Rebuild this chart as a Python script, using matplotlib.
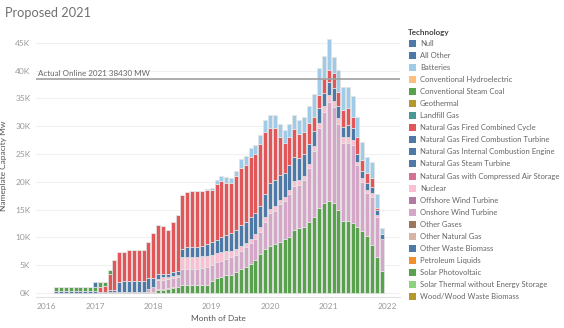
import matplotlib
matplotlib.use("Agg")
import matplotlib.pyplot as plt
from matplotlib.patches import Rectangle
import numpy as np
import pandas as pd

plt.rcParams['font.family'] = ['Lato', 'DejaVu Sans']

# meses: mai/2016 .. dez/2021
meses = pd.date_range("2016-05-01", "2021-12-01", freq="MS")

# valores em milhares de MW (K)
solar = [0, 0, 0, 0, 0, 0, 0, 0, 0, 0, 0, 0, 0, 0, 0, 0, 0, 0, 0, 0, 0,
         0.6, 0.6, 0.8, 0.9, 1.0,
         1.4, 1.45, 1.45, 1.45, 1.45, 1.5, 2.2, 2.7, 2.8, 3.2,
         3.2, 3.8, 4.3, 4.7, 5.3, 5.9, 7.0, 8.0, 8.5, 8.8,
         9.1, 9.7, 10.1, 11.3, 11.6, 11.9, 12.8, 13.6, 15.2, 16.1,
         16.6, 16.1, 15.0, 13.0, 13.0, 12.5, 11.9, 11.2, 10.2, 8.7,
         6.4, 4.0]
outros_gases = [0, 0, 0, 0, 0, 0, 0, 0, 0, 0, 0,
                0.2, 0.2, 0.2, 0.2, 0.2, 0.2, 0.2, 0.2, 0.2, 0.2,
                0.1, 0.1, 0.1, 0.1, 0.1,
                0, 0, 0, 0, 0, 0, 0, 0, 0, 0, 0, 0, 0, 0, 0, 0, 0, 0, 0, 0, 0,
                0, 0, 0, 0, 0, 0, 0, 0, 0, 0, 0, 0, 0, 0, 0, 0, 0, 0, 0, 0, 0]
eolica = [0, 0, 0, 0, 0, 0, 0, 0, 0, 0, 0, 0, 0, 0, 0, 0, 0, 0, 0,
          0.6, 0.8, 1.6, 1.7, 1.6, 1.7, 1.8,
          2.9, 2.95, 2.95, 2.95, 3.05, 3.1, 2.8, 2.8, 3.0, 3.0,
          3.2, 3.1, 3.3, 3.5, 3.7, 3.9, 4.0, 4.8, 5.8, 6.0,
          6.9, 6.8, 7.7, 8.0, 7.9, 8.4, 9.6, 11.9, 14.4, 16.5,
          17.8, 17.3, 15.4, 14.0, 13.9, 14.1, 11.1, 8.8, 7.8, 8.6,
          7.2, 5.7]
nuclear = [0, 0, 0, 0, 0, 0, 0, 0, 0, 0, 0, 0, 0, 0, 0, 0, 0, 0, 0, 0,
           0.1, 0.3, 0.4, 0.3, 0.3, 0.3,
           2.1, 2.1, 2.1, 2.1, 2.1, 2.1, 1.9, 1.7, 1.6, 1.3,
           1.2, 1.0, 0.9, 0.8, 0.8, 0.8, 0.8, 0.8, 0.8, 0.8,
           0.8, 0.8, 0.8, 0.8, 0.8, 0.8, 0.8, 0.9, 1.0, 1.0,
           1.2, 1.2, 1.0, 1.1, 1.2, 0.9, 0.6, 0.6, 0.6, 0.6,
           0.4, 0.0]
gas_turbina = [0.3, 0.3, 0.3, 0.3, 0.3, 0.3, 0.3, 0.3, 0.3, 0.2, 0.2,
               0.3, 0.4, 1.8, 1.9, 2.0, 2.0, 2.0, 2.0, 1.9, 1.6,
               0.8, 0.7, 0.7, 0.7, 0.7,
               1.6, 1.7, 1.7, 1.7, 1.8, 2.1, 2.3, 2.3, 2.6, 2.9,
               3.2, 3.5, 3.7, 3.7, 3.8, 3.7, 3.8, 4.2, 4.7, 4.7,
               4.4, 4.3, 4.4, 4.4, 4.0, 3.9, 3.6, 2.8, 2.6, 2.4,
               2.3, 2.2, 2.3, 1.8, 2.1, 2.1, 1.4, 1.4, 1.2, 1.2,
               1.0, 0.9]
gas_ciclo = [0, 0, 0, 0, 0, 0, 0, 0, 0, 0.9, 1.0,
             2.9, 5.4, 5.4, 5.3, 5.5, 5.5, 5.5, 5.5, 6.5, 8.1,
             8.8, 8.6, 7.9, 9.0, 10.1,
             9.6, 10.0, 10.1, 10.1, 10.0, 9.7, 9.4, 10.1, 10.1, 9.4,
             9.0, 9.6, 10.3, 10.3, 10.9, 10.7, 11.2, 11.2, 9.8, 9.3,
             6.8, 5.4, 5.0, 5.0, 4.3, 4.0, 3.7, 2.4, 2.4, 2.6,
             2.2, 2.7, 2.5, 3.1, 3.0, 2.0, 3.0, 1.9, 1.7, 1.5,
             0.3, 0.0]
carvao = [0.7, 0.7, 0.7, 0.7, 0.7, 0.7, 0.7, 0.7, 0.7, 0.8, 0.8, 0.8,
          0, 0, 0, 0, 0, 0, 0, 0, 0, 0, 0, 0, 0, 0, 0, 0, 0, 0, 0, 0, 0, 0,
          0, 0, 0, 0, 0, 0, 0, 0, 0, 0, 0, 0, 0, 0, 0, 0, 0, 0, 0, 0, 0, 0,
          0, 0, 0, 0, 0, 0, 0, 0, 0, 0, 0, 0]
baterias = [0, 0, 0, 0, 0, 0, 0, 0, 0, 0, 0, 0, 0, 0, 0, 0, 0, 0, 0, 0,
            0, 0, 0, 0, 0, 0, 0, 0, 0, 0, 0,
            0.2, 0.3, 0.8, 1.0, 1.0,
            0.9, 1.0, 1.6, 1.6, 1.6, 1.6, 1.7, 2.2, 2.5, 2.5,
            2.4, 2.3, 2.4, 2.5, 2.5, 2.6, 3.1, 4.2, 4.9, 4.0,
            5.6, 3.0, 3.9, 4.0, 3.8, 3.9, 3.6, 3.3, 3.0, 2.9,
            2.5, 1.0]
todos_outros = [0, 0, 0, 0, 0, 0, 0, 0, 0.9, 0, 0, 0, 0, 0, 0, 0, 0, 0,
                0, 0, 0, 0, 0, 0, 0, 0, 0, 0, 0, 0, 0, 0, 0, 0, 0, 0, 0,
                0, 0, 0, 0, 0, 0, 0, 0, 0, 0, 0, 0, 0, 0, 0, 0, 0, 0, 0,
                0, 0, 0, 0, 0, 0, 0, 0, 0, 0, 0, 0]

online_2021 = 38.43

tecnologias = ["Null", "All Other", "Batteries", "Conventional Hydroelectric",
               "Conventional Steam Coal", "Geothermal", "Landfill Gas",
               "Natural Gas Fired Combined Cycle", "Natural Gas Fired Combustion Turbine",
               "Natural Gas Internal Combustion Engine", "Natural Gas Steam Turbine",
               "Natural Gas with Compressed Air Storage", "Nuclear", "Offshore Wind Turbine",
               "Onshore Wind Turbine", "Other Gases", "Other Natural Gas",
               "Other Waste Biomass", "Petroleum Liquids", "Solar Photovoltaic",
               "Solar Thermal without Energy Storage", "Wood/Wood Waste Biomass"]
cores = ["#4e79a7", "#4e79a7", "#a0cbe8", "#ffbe7d", "#59a14f", "#b6992d", "#499894",
         "#e15759", "#4e79a7", "#4e79a7", "#4e79a7", "#d37295", "#fabfd2", "#b07aa1",
         "#d4a6c8", "#9d7660", "#d7b5a6", "#4e79a7", "#f28e2b", "#59a14f", "#8cd17d",
         "#b6992d"]

series = {
    "Solar Photovoltaic": solar,
    "Other Gases": outros_gases,
    "Onshore Wind Turbine": eolica,
    "Nuclear": nuclear,
    "Natural Gas Fired Combustion Turbine": gas_turbina,
    "Natural Gas Fired Combined Cycle": gas_ciclo,
    "Conventional Steam Coal": carvao,
    "Batteries": baterias,
    "All Other": todos_outros,
}

W, H = 564, 328
fig = plt.figure(figsize=(W / 100, H / 100), dpi=100)
ax = fig.add_axes([36 / W, 1 - 297 / H, (400 - 36) / W, (297 - 35) / H])

# empilha na ordem inversa da legenda (como o Tableau)
base = np.zeros(len(meses))
for nome in reversed(tecnologias):
    if nome not in series:
        continue
    vals = np.array(series[nome])
    cor = cores[tecnologias.index(nome)]
    ax.bar(meses, vals, bottom=base, width=25, color=cor,
           edgecolor="#e4e4e4", linewidth=0.5, zorder=3)
    base += vals

# linha de referencia
ax.axhline(online_2021, color="#a0a0a0", lw=1.2, zorder=4)
ax.text(0.006, online_2021 + 0.5, "Actual Online 2021 38430 MW", transform=ax.get_yaxis_transform(),
        fontsize=5.8, color="#666666", va="bottom", ha="left", zorder=5)

ax.set_ylim(-0.72, 46.4)
ax.set_xlim(pd.Timestamp("2015-12-28"), pd.Timestamp("2022-03-24"))
ax.set_yticks(range(0, 46, 5))
ax.set_yticklabels([f"{v}K" for v in range(0, 46, 5)])
anos = pd.date_range("2016-01-01", "2022-01-01", freq="YS")
ax.set_xticks(anos)
ax.set_xticklabels([str(a.year) for a in anos])
ax.grid(axis="y", color="#f0f0f0", lw=0.8, zorder=0)
ax.tick_params(axis="both", length=0, labelsize=6, labelcolor="#9a9a9a", pad=4)
for s in ["top", "right", "left"]:
    ax.spines[s].set_visible(False)
ax.spines["bottom"].set_color("#e0e0e0")
ax.set_ylabel("Nameplate Capacity Mw", fontsize=6, color="#555555", labelpad=6)
ax.set_xlabel("Month of Date", fontsize=6, color="#555555", labelpad=4)
ax.get_xticklabels()[0].set_ha("left")

# titulo
fig.text(5 / W, 1 - 13 / H, "Proposed 2021", fontsize=9.2, color="#707070", va="center", ha="left")

# legenda manual
fig.text(408 / W, 1 - 33 / H, "Technology", fontsize=5.8, fontweight="bold", color="#444444",
         va="center", ha="left")
for i, (nome, cor) in enumerate(zip(tecnologias, cores)):
    yc = 43.3 + 12.07 * i
    fig.add_artist(Rectangle((409 / W, 1 - (yc + 3.5) / H), 7 / W, 7 / H,
                             transform=fig.transFigure, facecolor=cor, edgecolor="none"))
    fig.text(420 / W, 1 - yc / H, nome, fontsize=5.5, color="#666666", va="center", ha="left")

fig.savefig("out.png", dpi=100)
